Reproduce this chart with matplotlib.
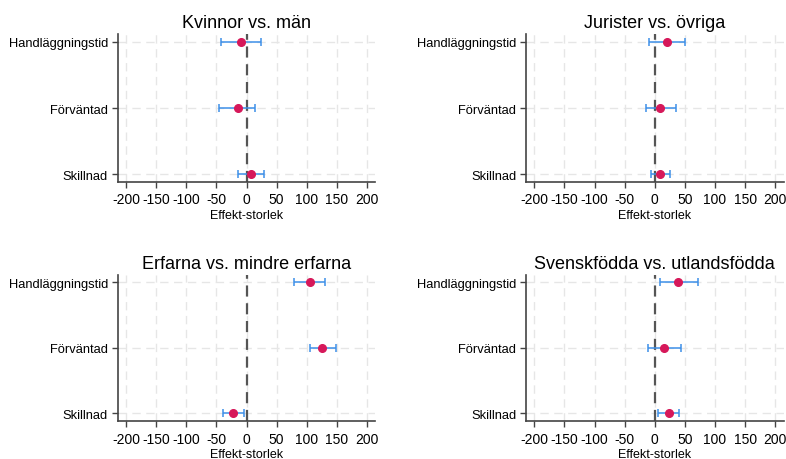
import numpy as np
import matplotlib
matplotlib.use("Agg")
import matplotlib.pyplot as plt

plt.rcParams['font.family'] = ['Liberation Sans', 'DejaVu Sans']

categories = ["Handläggningstid", "Förväntad", "Skillnad"]
titles = ["Kvinnor vs. män", "Jurister vs. övriga",
          "Erfarna vs. mindre erfarna", "Svenskfödda vs. utlandsfödda"]

# point estimates, order: Handläggningstid, Förväntad, Skillnad
est_kvinnor = [-9, -15, 7]
lo_kvinnor = [-43, -45, -15]
hi_kvinnor = [24, 14, 29]

est_jurister = [20, 9, 9]
lo_jurister = [-9, -15, -7]
hi_jurister = [51, 35, 26]

est_erfarna = [105, 126, -22]
lo_erfarna = [78, 105, -39]
hi_erfarna = [131, 149, -4]

est_svensk = [39, 15, 24]
lo_svensk = [9, -12, 6]
hi_svensk = [72, 43, 40]

panels = [
    (est_kvinnor, lo_kvinnor, hi_kvinnor),
    (est_jurister, lo_jurister, hi_jurister),
    (est_erfarna, lo_erfarna, hi_erfarna),
    (est_svensk, lo_svensk, hi_svensk),
]

xticks = np.arange(-200, 201, 50)

fig = plt.figure(figsize=(7.86, 4.6), dpi=100)
positions = [
    [0.1497, 0.602, 0.328, 0.322],
    [0.669, 0.602, 0.328, 0.322],
    [0.1497, 0.082, 0.328, 0.319],
    [0.669, 0.082, 0.328, 0.319],
]

ypos = np.array([3, 2, 1])

for pos, title, (est, lo, hi) in zip(positions, titles, panels):
    ax = fig.add_axes(pos)
    est = np.array(est)
    lo = np.array(lo)
    hi = np.array(hi)
    # grid
    for x in xticks:
        ax.axvline(x, color='#e6e6e6', lw=1, ls=(0, (6, 4)), zorder=0)
    for y in ypos:
        ax.axhline(y, color='#e6e6e6', lw=1, ls=(0, (6, 4)), zorder=0)
    ax.axvline(0, color='#555555', lw=1.6, ls=(0, (5, 3)), zorder=1)
    ax.errorbar(est, ypos, xerr=[est - lo, hi - est], fmt='none',
                ecolor='#3d8fe8', elinewidth=1.1, capsize=3, capthick=1.1, zorder=2)
    ax.plot(est, ypos, 'o', color='#d6185a', ms=5.5, zorder=3)

    ax.set_xlim(-214, 214)
    ax.set_ylim(0.88, 3.12)
    ax.set_xticks(xticks)
    ax.set_xticklabels([str(v) for v in xticks], fontsize=10)
    ax.set_yticks(ypos)
    ax.set_yticklabels(categories, fontsize=9.3)
    ax.set_xlabel("Effekt-storlek", fontsize=9, labelpad=1.5)
    ax.set_title(title, fontsize=13, pad=5)
    for s in ['top', 'right']:
        ax.spines[s].set_visible(False)
    for s in ['left', 'bottom']:
        ax.spines[s].set_color('#444444')
        ax.spines[s].set_linewidth(1.2)
    ax.tick_params(axis='both', colors='#444444', labelcolor='black', length=4, width=1)
    ax.tick_params(axis='y', pad=3)

fig.savefig("out.png", dpi=100)
